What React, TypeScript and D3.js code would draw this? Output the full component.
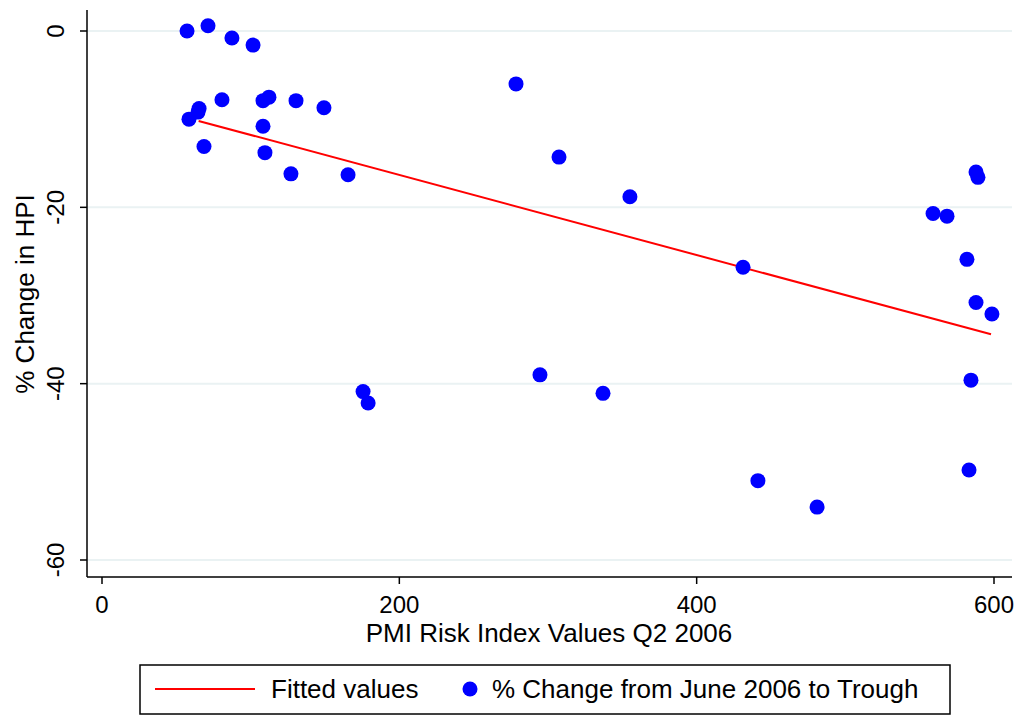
import React from "react";
import * as d3 from "d3";

const pmiX = [57.2,71.3,87.4,101.6,58.5,64.6,65.3,80.7,68.6,108.3,112.3,108.3,109.6,130.5,149.3,127.1,165.5,175.6,179,278.5,307.4,294.6,337,355.1,431.2,441.2,481,559,568.4,587.9,589.2,581.8,587.9,598.6,584.5,583.2];
const hpiY = [0,0.6,-0.8,-1.6,-10.0,-9.2,-8.8,-7.8,-13.1,-7.9,-7.5,-10.8,-13.8,-7.9,-8.7,-16.2,-16.3,-40.9,-42.2,-6.0,-14.3,-39.0,-41.1,-18.8,-26.8,-51.0,-54.0,-20.7,-21.0,-16.0,-16.6,-25.9,-30.8,-32.1,-39.6,-49.8];
const fitX = [65, 598];
const fitY = [-10.2, -34.4];
const xTicks = [0, 200, 400, 600];
const yTicks = [0, -20, -40, -60];

export default function App() {
  const x = d3.scaleLinear().domain([0, 600]).range([102, 994]);
  const y = d3.scaleLinear().domain([0, -60]).range([31, 560]);
  const font = "Liberation Sans, Arial, sans-serif";
  const line = d3.line<number>().x((_, i) => x(fitX[i])).y((d) => y(d));
  return (
    <svg width={1022} height={715} style={{ position: "absolute", left: 0, top: 0, background: "#fff" }} fontFamily={font}>
      {yTicks.map((t) => (
        <g key={t}>
          <line x1={87} x2={1012} y1={y(t)} y2={y(t)} stroke="#eaf2f3" strokeWidth={2} />
          <line x1={80} x2={87} y1={y(t)} y2={y(t)} stroke="#000" strokeWidth={1.5} />
          <text transform={`translate(64,${y(t)}) rotate(-90)`} textAnchor="middle" fontSize={24}>{t}</text>
        </g>
      ))}
      {xTicks.map((t) => (
        <g key={t}>
          <line x1={x(t)} x2={x(t)} y1={577} y2={584} stroke="#000" strokeWidth={1.5} />
          <text x={x(t)} y={613} textAnchor="middle" fontSize={24}>{t}</text>
        </g>
      ))}
      <line x1={87} x2={87} y1={10} y2={577} stroke="#000" strokeWidth={1.5} />
      <line x1={87} x2={1012} y1={577} y2={577} stroke="#000" strokeWidth={1.5} />
      <text x={549} y={642} textAnchor="middle" fontSize={26}>PMI Risk Index Values Q2 2006</text>
      <text transform="translate(34,294) rotate(-90)" textAnchor="middle" fontSize={26}>% Change in HPI</text>
      <path d={line(fitY) || ""} stroke="#ff0000" strokeWidth={2} fill="none" />
      {pmiX.map((v, i) => (
        <circle key={i} cx={x(v)} cy={y(hpiY[i])} r={7.5} fill="#0000ff" />
      ))}
      <rect x={140} y={665} width={810} height={49} fill="#fff" stroke="#000" strokeWidth={1.5} />
      <line x1={155} x2={255} y1={689} y2={689} stroke="#ff0000" strokeWidth={2} />
      <text x={271} y={698} fontSize={26}>Fitted values</text>
      <circle cx={470} cy={689} r={7.5} fill="#0000ff" />
      <text x={492} y={698} fontSize={26}>% Change from June 2006 to Trough</text>
    </svg>
  );
}
